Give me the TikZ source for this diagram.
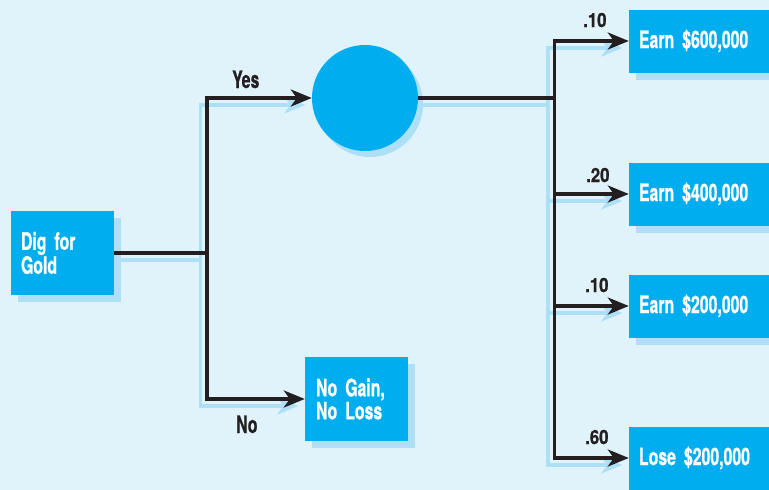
\documentclass[tikz,border=0pt]{standalone}
\usepackage{fontspec}
\setmainfont{TeX Gyre Heros}[FakeStretch=0.66,FakeBold=0.6]
\newfontfamily\probfont{TeX Gyre Heros}[FakeStretch=0.86,FakeBold=0.8]
\usetikzlibrary{arrows.meta,shadows}
\definecolor{bgc}{HTML}{E0F3FB}
\definecolor{boxc}{HTML}{00AEEF}
\definecolor{shadc}{HTML}{ADDFF7}
\definecolor{inkc}{HTML}{231F20}
\pgfdeclarelayer{backdrop}
\pgfdeclarelayer{shade}
\pgfsetlayers{backdrop,shade,main}
\tikzset{
  box/.style={fill=boxc, text=white, align=left, inner xsep=10pt, inner ysep=0pt,
    font=\fontsize{24}{23}\selectfont\bfseries,
    general shadow={fill=shadc, shadow xshift=7pt, shadow yshift=-7pt}},
  lab/.style={text=inkc, inner sep=0pt, anchor=base west, font=\fontsize{24}{23}\selectfont\bfseries},
  prob/.style={text=inkc, inner sep=0pt, anchor=base west, font=\fontsize{19.5}{20}\selectfont\probfont\bfseries},
  wire/.style={draw=inkc, line width=3.5pt},
  wireshadow/.style={draw=shadc, line width=3.5pt, transform canvas={xshift=-6.5pt, yshift=-7pt}},
  arr/.style={-{Stealth[length=21pt,width=17pt,inset=6pt]}},
}
\newcommand\mywire[2][]{%
  \begin{pgfonlayer}{shade}\draw[wireshadow,#1] #2;\end{pgfonlayer}%
  \draw[wire,#1] #2;}
\begin{document}
\begin{tikzpicture}[x=1pt,y=-1pt]
\useasboundingbox (0,0) rectangle (769,490);
\begin{pgfonlayer}{backdrop}
  \fill[bgc] (0,0) rectangle (769,490);
\end{pgfonlayer}

% nodes
\node[box, minimum width=103pt, minimum height=84pt, text width=83pt] (dig) at (62.5,253) {Dig for\\Gold};
\node[circle, fill=boxc, minimum size=106pt, inner sep=0pt,
      general shadow={fill=shadc, shadow xshift=5pt, shadow yshift=-6pt}] (chance) at (365,98) {};
\node[box, minimum width=103pt, minimum height=84pt, text width=81pt, inner xsep=11pt] (nogain) at (356.5,399) {No Gain,\\No Loss};
\node[box, minimum width=151pt, minimum height=63pt, text width=131pt] (e600) at (704.5,41) {Earn \$600,000};
\node[box, minimum width=151pt, minimum height=63pt, text width=131pt] (e400) at (704.5,194) {Earn \$400,000};
\node[box, minimum width=151pt, minimum height=63pt, text width=131pt] (e200) at (704.5,306) {Earn \$200,000};
\node[box, minimum width=151pt, minimum height=63pt, text width=131pt] (l200) at (704.5,458) {Lose \$200,000};

% junctions
\coordinate (j1) at (207,253);
\coordinate (j2) at (554.5,98);

% connectors
\mywire{(dig.east) -- (j1)}
\mywire[arr]{(j1) |- (chance.west)}
\mywire[arr]{(j1) |- (nogain.west)}
\mywire{(chance.east) -- (j2)}
\mywire[arr]{(j2) |- (e600.west)}
\mywire[arr]{(j2) |- (e400.west)}
\mywire[arr]{(j2) |- (e200.west)}
\mywire[arr]{(j2) |- (l200.west)}

% labels
\node[lab] (yes) at (232,88) {Yes};
\node[lab] (no) at (236,433) {No};
\node[prob] (p1) at (583,27) {.10};
\node[prob] (p2) at (586,182) {.20};
\node[prob] (p3) at (585,292) {.10};
\node[prob] (p4) at (585,444) {.60};
\end{tikzpicture}
\end{document}
